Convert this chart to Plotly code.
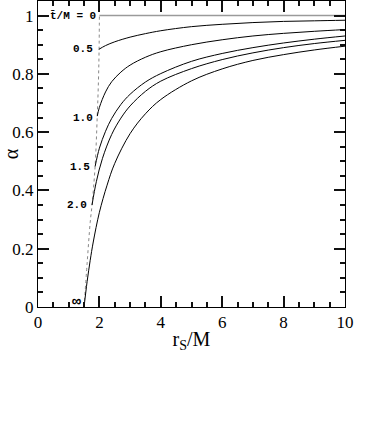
import plotly.graph_objects as go

# ---- data ----
rs_t0 = [2.0, 10.0]
alpha_t0 = [1.0, 1.0]

rs_05 = [1.98, 2.2, 2.5, 3.0, 3.5, 4.0, 5.0, 6.0, 7.0, 8.0, 9.0, 10.0]
alpha_05 = [0.884, 0.897, 0.910, 0.926, 0.938, 0.948, 0.962, 0.970, 0.976, 0.980, 0.982, 0.984]

rs_10 = [1.93, 2.0, 2.2, 2.4, 2.7, 3.0, 3.5, 4.0, 5.0, 6.0, 7.0, 8.0, 9.0, 10.0]
alpha_10 = [0.655, 0.685, 0.738, 0.773, 0.806, 0.830, 0.857, 0.876, 0.900, 0.917, 0.930, 0.939, 0.946, 0.952]

rs_15 = [1.86, 2.0, 2.2, 2.4, 2.7, 3.0, 3.5, 4.0, 5.0, 6.0, 7.0, 8.0, 9.0, 10.0]
alpha_15 = [0.482, 0.545, 0.603, 0.647, 0.695, 0.730, 0.772, 0.801, 0.843, 0.870, 0.890, 0.906, 0.919, 0.930]

rs_20 = [1.76, 1.9, 2.1, 2.4, 2.7, 3.0, 3.5, 4.0, 5.0, 6.0, 7.0, 8.0, 9.0, 10.0]
alpha_20 = [0.350, 0.430, 0.510, 0.592, 0.648, 0.690, 0.740, 0.775, 0.818, 0.849, 0.872, 0.890, 0.904, 0.915]

rs_inf = [1.5, 1.6, 1.7, 1.8, 2.0, 2.25, 2.5, 3.0, 3.5, 4.0, 5.0, 6.0, 7.0, 8.0, 9.0, 10.0]
alpha_inf = [0.0, 0.087, 0.160, 0.223, 0.325, 0.418, 0.493, 0.595, 0.663, 0.712, 0.776, 0.817, 0.846, 0.866, 0.882, 0.895]

rs_locus = [1.5, 1.6, 1.7, 1.76, 1.86, 1.93, 1.97, 1.99, 2.0]
alpha_locus = [0.0, 0.15, 0.29, 0.35, 0.482, 0.655, 0.78, 0.884, 1.0]

labels = ["t\u0304/M = 0", "0.5", "1.0", "1.5", "2.0", "\u221e"]
label_x = [1.96, 1.87, 1.87, 1.77, 1.65, 1.48]
label_y = [1.0, 0.884, 0.648, 0.482, 0.350, 0.016]
label_size = [11, 11, 11, 11, 11, 15]

X_RANGE = [0, 10]
Y_RANGE = [0, 1.05]

fig = go.Figure()

fig.add_trace(go.Scatter(x=rs_locus, y=alpha_locus, mode="lines",
                         line=dict(color="#888888", width=1, dash="dot"),
                         line_shape="spline", hoverinfo="skip"))
fig.add_trace(go.Scatter(x=rs_t0, y=alpha_t0, mode="lines",
                         line=dict(color="#9a9a9a", width=1.5)))
for xs, ys in [(rs_05, alpha_05), (rs_10, alpha_10), (rs_15, alpha_15),
               (rs_20, alpha_20), (rs_inf, alpha_inf)]:
    fig.add_trace(go.Scatter(x=xs, y=ys, mode="lines", line_shape="spline",
                             line=dict(color="black", width=1)))

for t, lx, ly, ls in zip(labels, label_x, label_y, label_size):
    fig.add_annotation(x=lx, y=ly, text="<b>" + t + "</b>", showarrow=False,
                       xanchor="right", yanchor="middle",
                       font=dict(family="Liberation Mono", size=ls, color="black"))

fig.update_xaxes(range=X_RANGE, dtick=2, ticks="inside", ticklen=11, tickwidth=2,
                 tickcolor="#111111", showline=True, linecolor="black",
                 mirror="allticks", showgrid=False,
                 title_text="r<sub>S</sub>/M", title_standoff=0,
                 minor=dict(dtick=0.5, ticklen=5, ticks="inside",
                            tickcolor="#111111", tickwidth=2))
fig.update_yaxes(range=Y_RANGE, dtick=0.2, ticks="inside", ticklen=11, tickwidth=2,
                 tickcolor="#111111", showline=True, linecolor="black",
                 mirror="allticks", showgrid=False,
                 title_text="\u03b1", title_standoff=6,
                 minor=dict(dtick=0.05, ticklen=5, ticks="inside",
                            tickcolor="#111111", tickwidth=2))

fig.update_layout(width=366, height=441, showlegend=False,
                  margin=dict(l=38, r=21, t=1, b=134),
                  font=dict(family="Liberation Serif", size=17, color="black"),
                  plot_bgcolor="white", paper_bgcolor="white")
fig.update_xaxes(automargin=False)
fig.update_yaxes(automargin=False)

fig.write_html("out.html")
